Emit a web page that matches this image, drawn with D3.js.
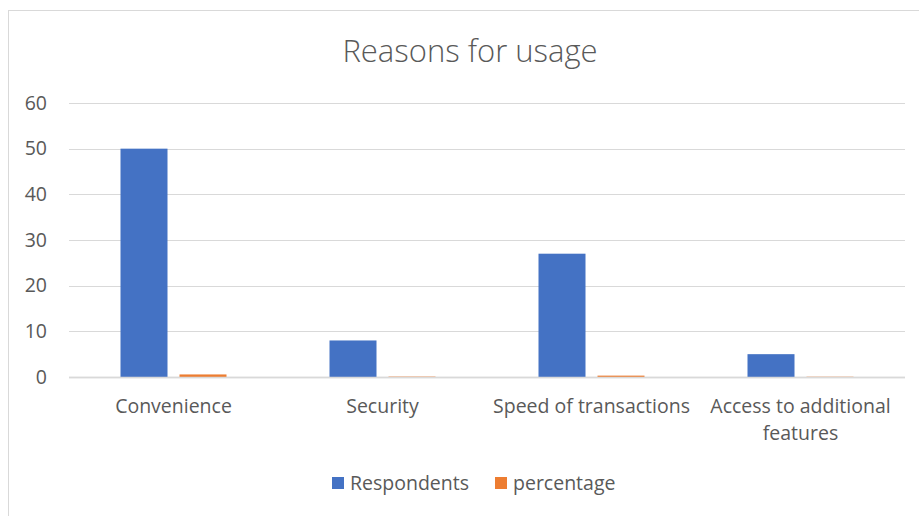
<!DOCTYPE html>
<html>
<head>
<meta charset="utf-8">
<script src="https://cdn.jsdelivr.net/npm/d3@7/dist/d3.min.js"></script>
<style>
  body { margin: 0; background: #fff; }
  svg { display: block; font-family: "Open Sans", sans-serif; }
</style>
</head>
<body>
<div id="chart"></div>
<script>
var categories = ["Convenience", "Security", "Speed of transactions", "Access to additional features"];
var seriesNames = ["Respondents", "percentage"];
var respondents = [50, 8, 27, 5];
var percentage = [0.56, 0.09, 0.3, 0.06];
var yTicks = [0, 10, 20, 30, 40, 50, 60];

var colors = ["#4472C4", "#ED7D31"];
var width = 919, height = 516;
var margin = {left: 69, right: 14, top: 103, bottom: 139};
var fs = "19.5px";

var svg = d3.select("#chart").append("svg")
  .attr("width", width)
  .attr("height", height);

// chart frame
svg.append("rect")
  .attr("x", 8.5).attr("y", 10.5)
  .attr("width", 920).attr("height", 520)
  .attr("fill", "none")
  .attr("stroke", "#d9d9d9");

svg.append("text")
  .attr("x", 470).attr("y", 62)
  .attr("text-anchor", "middle")
  .attr("font-size", "31px")
  .attr("font-weight", 300)
  .attr("fill", "#595959")
  .text("Reasons for usage");

var x0 = d3.scaleBand()
  .domain(categories)
  .range([margin.left, width - margin.right]);

var y = d3.scaleLinear()
  .domain([0, 60])
  .range([height - margin.bottom, margin.top]);

// gridlines
svg.append("g")
  .selectAll("line")
  .data(yTicks)
  .enter()
  .append("line")
  .attr("x1", margin.left)
  .attr("x2", width - margin.right)
  .attr("y1", function(d) { return Math.round(y(d)) + 0.5; })
  .attr("y2", function(d) { return Math.round(y(d)) + 0.5; })
  .attr("stroke", "#d9d9d9")
  .attr("stroke-width", function(d) { return d === 0 ? 1.5 : 1; });

// y labels
var yAxis = d3.axisLeft(y).tickValues(yTicks).tickSize(0).tickPadding(0);
var gy = svg.append("g")
  .attr("transform", "translate(47,0)")
  .call(yAxis);
gy.select(".domain").remove();
gy.selectAll("text")
  .attr("font-size", fs)
  .attr("font-family", "'Open Sans', sans-serif")
  .attr("fill", "#595959");

// bars
var bw = 47, gap = 12;
var data = [];
categories.forEach(function(c, i) {
  data.push({cat: c, s: 0, v: respondents[i]});
  data.push({cat: c, s: 1, v: percentage[i]});
});

svg.append("g")
  .selectAll("rect")
  .data(data)
  .enter()
  .append("rect")
  .attr("x", function(d) {
    var cx = x0(d.cat) + x0.bandwidth() / 2;
    return d.s === 0 ? cx - gap / 2 - bw : cx + gap / 2;
  })
  .attr("y", function(d) { return y(d.v); })
  .attr("width", bw)
  .attr("height", function(d) { return y(0) - y(d.v); })
  .attr("fill", function(d) { return colors[d.s]; });

// redraw baseline over bars
svg.append("line")
  .attr("x1", margin.left).attr("x2", width - margin.right)
  .attr("y1", Math.round(y(0)) + 0.5).attr("y2", Math.round(y(0)) + 0.5)
  .attr("stroke", "#d9d9d9").attr("stroke-width", 1.5);

// category labels
var xLabels = [["Convenience"], ["Security"], ["Speed of transactions"], ["Access to additional", "features"]];
var gx = svg.append("g");
categories.forEach(function(c, i) {
  var t = gx.append("text")
    .attr("x", x0(c) + x0.bandwidth() / 2)
    .attr("y", 413)
    .attr("text-anchor", "middle")
    .attr("font-size", fs)
    .attr("fill", "#595959");
  xLabels[i].forEach(function(line, j) {
    t.append("tspan")
      .attr("x", x0(c) + x0.bandwidth() / 2)
      .attr("dy", j === 0 ? 0 : 27)
      .text(line);
  });
});

// legend
var legendX = [332, 495];
var lg = svg.append("g");
seriesNames.forEach(function(n, i) {
  lg.append("rect")
    .attr("x", legendX[i]).attr("y", 477)
    .attr("width", 12).attr("height", 12)
    .attr("fill", colors[i]);
  lg.append("text")
    .attr("x", legendX[i] + 18).attr("y", 490)
    .attr("font-size", fs)
    .attr("fill", "#595959")
    .text(n);
});
</script>
</body>
</html>
